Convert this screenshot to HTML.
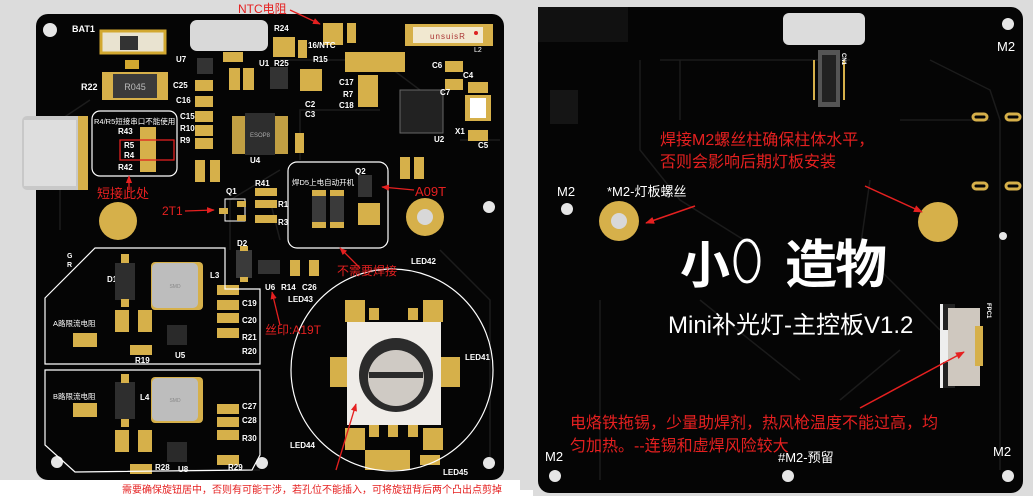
<!DOCTYPE html>
<html><head><meta charset="utf-8"><style>
html,body{margin:0;padding:0;width:1033px;height:496px;overflow:hidden;background:#dcdcdc}
svg{display:block}
text{font-family:"Liberation Sans","Noto Sans CJK SC",sans-serif}
</style></head><body>
<svg width="1033" height="496" viewBox="0 0 1033 496" xmlns="http://www.w3.org/2000/svg">
<defs><marker id="ah" viewBox="0 0 10 10" refX="9" refY="5" markerWidth="6" markerHeight="6" orient="auto"><path d="M0 1 L10 5 L0 9 Z" fill="#e52020"/></marker></defs>
<rect x="0" y="0" width="1033" height="496" fill="#dcdcdc"/>
<rect x="0" y="480" width="520" height="16" fill="#ffffff"/>
<rect x="520" y="490" width="13" height="6" fill="#fff"/>

<!-- LEFT BOARD -->
<rect x="36" y="14" width="468" height="466" rx="12" fill="#050505"/>
<g stroke="#1c1c1c" stroke-width="1.5" fill="none">
<path d="M60 230 L60 120 L90 100 M280 60 L380 60 L420 90 M300 160 L300 110 L380 110 M460 140 L500 140 M440 250 L490 300 L490 460 M270 200 L280 240 M180 470 L260 470 M230 250 L230 200 L280 170"/>
</g>
<circle cx="50" cy="30" r="7" fill="#e6e6e6"/>
<circle cx="57" cy="462" r="6" fill="#e6e6e6"/>
<circle cx="262" cy="463" r="6" fill="#e6e6e6"/>
<circle cx="489" cy="463" r="6" fill="#e6e6e6"/>
<circle cx="489" cy="207" r="6" fill="#e6e6e6"/>
<rect x="190" y="20" width="78" height="31" rx="7" fill="#d9d9d9"/>
<text x="72" y="32" fill="#fff" font-size="9" font-weight="bold">BAT1</text>
<rect x="101" y="31" width="64" height="22" fill="#e9e3d0" stroke="#d2a830" stroke-width="3"/>
<rect x="120" y="36" width="18" height="14" fill="#333"/>
<rect x="125" y="60" width="14" height="9" fill="#d2a830"/>
<text x="81" y="90" fill="#fff" font-size="9" font-weight="bold">R22</text>
<rect x="102" y="72" width="66" height="28" fill="#d6b04a"/>
<rect x="113" y="74" width="44" height="24" fill="#3b3b3b"/>
<text x="135" y="90" fill="#bbb" font-size="9" text-anchor="middle">R045</text>
<rect x="405" y="24" width="88" height="22" fill="#d6b04a"/>
<rect x="413" y="27" width="70" height="16" fill="#f1e8d0"/>
<text x="448" y="39" fill="#a33" font-size="8" text-anchor="middle" letter-spacing="1">unsuisR</text>
<circle cx="476" cy="33" r="2" fill="#d22"/>
<text x="474" y="52" fill="#fff" font-size="7">L2</text>
<g fill="#d6b04a">
<rect x="323" y="23" width="20" height="22"/><rect x="347" y="23" width="9" height="20"/>
<rect x="273" y="37" width="22" height="20"/><rect x="298" y="40" width="9" height="18"/>
<rect x="223" y="52" width="20" height="10"/>
<rect x="345" y="52" width="60" height="20"/>
<rect x="358" y="75" width="20" height="32"/>
<rect x="445" y="61" width="18" height="11"/><rect x="445" y="79" width="18" height="11"/>
<rect x="468" y="82" width="20" height="11"/><rect x="468" y="130" width="20" height="11"/>
<rect x="229" y="68" width="11" height="22"/><rect x="243" y="68" width="11" height="22"/>
<rect x="300" y="69" width="22" height="22"/>
<rect x="195" y="80" width="18" height="11"/><rect x="195" y="96" width="18" height="11"/>
<rect x="195" y="111" width="18" height="11"/><rect x="195" y="125" width="18" height="11"/><rect x="195" y="138" width="18" height="11"/>
<rect x="140" y="127" width="16" height="45"/>
<rect x="295" y="133" width="9" height="20"/>
<rect x="195" y="160" width="10" height="22"/><rect x="210" y="160" width="10" height="22"/>
<rect x="400" y="157" width="10" height="22"/><rect x="414" y="157" width="10" height="22"/>
<rect x="255" y="188" width="22" height="8"/><rect x="255" y="200" width="22" height="8"/><rect x="255" y="215" width="22" height="8"/>
<rect x="358" y="203" width="22" height="22"/>
<rect x="290" y="260" width="10" height="16"/><rect x="309" y="260" width="10" height="16"/>
<rect x="217" y="285" width="22" height="10"/><rect x="217" y="300" width="22" height="10"/><rect x="217" y="313" width="22" height="10"/><rect x="217" y="328" width="22" height="10"/>
<rect x="217" y="404" width="22" height="10"/><rect x="217" y="417" width="22" height="10"/><rect x="217" y="430" width="22" height="10"/><rect x="217" y="455" width="22" height="10"/>
<rect x="115" y="310" width="14" height="22"/><rect x="138" y="310" width="14" height="22"/><rect x="130" y="345" width="22" height="10"/>
<rect x="115" y="430" width="14" height="22"/><rect x="138" y="430" width="14" height="22"/><rect x="130" y="464" width="22" height="10"/>
<rect x="73" y="333" width="24" height="14"/><rect x="73" y="403" width="24" height="14"/>
<rect x="365" y="450" width="45" height="20"/>
<rect x="420" y="455" width="20" height="10"/>
</g>
<rect x="22" y="116" width="66" height="74" rx="5" fill="#c8c8c8"/>
<rect x="78" y="116" width="10" height="74" fill="#d6b04a"/>
<rect x="24" y="120" width="52" height="66" fill="#dedede"/>
<rect x="92" y="111" width="85" height="65" rx="8" fill="none" stroke="#fff" stroke-width="1.2"/>
<text x="94" y="124" fill="#fff" font-size="7.5">R4/R5短接串口不能使用</text>
<text x="118" y="134" fill="#fff" font-size="8" font-weight="bold">R43</text>
<text x="124" y="148" fill="#fff" font-size="8" font-weight="bold">R5</text>
<text x="124" y="158" fill="#fff" font-size="8" font-weight="bold">R4</text>
<text x="118" y="170" fill="#fff" font-size="8" font-weight="bold">R42</text>
<rect x="120" y="140" width="54" height="20" fill="none" stroke="#e02020" stroke-width="1.3"/>
<rect x="232" y="116" width="56" height="38" fill="#d6b04a" opacity=".9"/>
<rect x="245" y="113" width="30" height="42" fill="#2e2e2e"/>
<text x="260" y="137" fill="#aaa" font-size="6" text-anchor="middle">ESOP8</text>
<text x="250" y="163" fill="#fff" font-size="8" font-weight="bold">U4</text>
<rect x="400" y="90" width="43" height="43" fill="#222" stroke="#666"/>
<text x="434" y="142" fill="#fff" font-size="8" font-weight="bold">U2</text>
<rect x="465" y="95" width="26" height="26" fill="#d6b04a"/><rect x="470" y="98" width="16" height="20" fill="#fff"/>
<text x="455" y="134" fill="#fff" font-size="8" font-weight="bold">X1</text>
<rect x="197" y="58" width="16" height="16" fill="#333"/>
<rect x="270" y="67" width="18" height="22" fill="#333"/>
<g fill="#fff" font-size="8" font-weight="bold">
<text x="176" y="62">U7</text><text x="259" y="66">U1</text><text x="274" y="66">R25</text><text x="274" y="31">R24</text>
<text x="313" y="62">R15</text><text x="305" y="107">C2</text><text x="305" y="117">C3</text>
<text x="173" y="88">C25</text><text x="176" y="103">C16</text><text x="180" y="119">C15</text><text x="180" y="131">R10</text><text x="180" y="143">R9</text>
<text x="339" y="85">C17</text><text x="343" y="97">R7</text><text x="339" y="108">C18</text>
<text x="432" y="68">C6</text><text x="463" y="78">C4</text><text x="440" y="95">C7</text><text x="478" y="148">C5</text>
<text x="226" y="194">Q1</text><text x="255" y="186">R41</text><text x="278" y="207">R1</text><text x="278" y="225">R3</text>
<text x="237" y="246">D2</text><text x="265" y="290">U6</text><text x="281" y="290">R14</text><text x="302" y="290">C26</text>
<text x="288" y="302">LED43</text><text x="411" y="264">LED42</text><text x="465" y="360">LED41</text>
<text x="290" y="448">LED44</text><text x="443" y="475">LED45</text><text x="355" y="174">Q2</text>
<text x="107" y="282">D1</text><text x="210" y="278">L3</text><text x="140" y="400">L4</text>
<text x="242" y="306">C19</text><text x="242" y="323">C20</text><text x="242" y="340">R21</text><text x="242" y="354">R20</text>
<text x="242" y="409">C27</text><text x="242" y="423">C28</text><text x="242" y="441">R30</text><text x="228" y="470">R29</text>
<text x="175" y="358">U5</text><text x="178" y="472">U8</text><text x="155" y="470">R28</text><text x="135" y="363">R19</text>
<text x="67" y="258" font-size="7">G</text><text x="67" y="267" font-size="7">R</text>
<text x="308" y="48">16/NTC</text>
</g>
<circle cx="118" cy="221" r="19" fill="#d6b04a"/>
<circle cx="425" cy="217" r="19" fill="#d6b04a"/><circle cx="425" cy="217" r="8" fill="#d8d8d8"/>
<rect x="288" y="162" width="100" height="86" rx="9" fill="none" stroke="#fff" stroke-width="1.2"/>
<text x="292" y="185" fill="#fff" font-size="7.5">焊D5上电自动开机</text>
<rect x="312" y="195" width="14" height="28" fill="#3a3a3a"/><rect x="312" y="190" width="14" height="6" fill="#d6b04a"/><rect x="312" y="222" width="14" height="6" fill="#d6b04a"/>
<rect x="330" y="195" width="14" height="28" fill="#3a3a3a"/><rect x="330" y="190" width="14" height="6" fill="#d6b04a"/><rect x="330" y="222" width="14" height="6" fill="#d6b04a"/>
<rect x="358" y="175" width="14" height="22" fill="#333"/>
<rect x="225" y="199" width="20" height="22" fill="none" stroke="#fff"/>
<rect x="237" y="201" width="9" height="6" fill="#d6b04a"/><rect x="219" y="208" width="9" height="6" fill="#d6b04a"/><rect x="237" y="215" width="9" height="6" fill="#d6b04a"/>
<rect x="236" y="250" width="16" height="28" fill="#3a3a3a"/><rect x="240" y="246" width="8" height="5" fill="#d6b04a"/><rect x="240" y="277" width="8" height="5" fill="#d6b04a"/>
<rect x="258" y="260" width="22" height="14" fill="#333"/>
<path d="M45 298 L95 248 L225 248 L225 289 L260 289 L260 364 L45 364 Z" fill="none" stroke="#fff" stroke-width="1.2"/>
<path d="M45 370 L260 370 L260 455 L252 470 L75 472 L45 445 Z" fill="none" stroke="#fff" stroke-width="1.2"/>
<text x="53" y="326" fill="#fff" font-size="7.5">A路限流电阻</text>
<text x="53" y="399" fill="#fff" font-size="7.5">B路限流电阻</text>
<rect x="115" y="263" width="20" height="37" fill="#2e2e2e"/><rect x="121" y="254" width="8" height="9" fill="#d6b04a"/><rect x="121" y="299" width="8" height="8" fill="#d6b04a"/>
<rect x="115" y="382" width="20" height="37" fill="#2e2e2e"/><rect x="121" y="374" width="8" height="9" fill="#d6b04a"/><rect x="121" y="419" width="8" height="8" fill="#d6b04a"/>
<rect x="151" y="262" width="52" height="48" rx="4" fill="#d6b04a"/><rect x="152" y="263" width="46" height="45" rx="5" fill="#bdbdbd"/>
<text x="175" y="288" fill="#888" font-size="5" text-anchor="middle">SMD</text>
<rect x="151" y="377" width="52" height="46" rx="4" fill="#d6b04a"/><rect x="152" y="378" width="46" height="43" rx="5" fill="#bdbdbd"/>
<text x="175" y="402" fill="#888" font-size="5" text-anchor="middle">SMD</text>
<rect x="167" y="325" width="20" height="20" fill="#2a2a2a"/><rect x="167" y="442" width="20" height="20" fill="#2a2a2a"/>
<circle cx="392" cy="370" r="101" fill="none" stroke="#fff" stroke-width="1.2"/>
<rect x="345" y="300" width="20" height="22" fill="#d6b04a"/><rect x="423" y="300" width="20" height="22" fill="#d6b04a"/>
<rect x="345" y="428" width="20" height="22" fill="#d6b04a"/><rect x="423" y="428" width="20" height="22" fill="#d6b04a"/>
<rect x="330" y="357" width="20" height="30" fill="#d6b04a"/><rect x="440" y="357" width="20" height="30" fill="#d6b04a"/>
<rect x="369" y="308" width="10" height="12" fill="#d6b04a"/><rect x="408" y="308" width="10" height="12" fill="#d6b04a"/>
<rect x="369" y="425" width="10" height="12" fill="#d6b04a"/><rect x="388" y="425" width="10" height="12" fill="#d6b04a"/><rect x="408" y="425" width="10" height="12" fill="#d6b04a"/>
<rect x="347" y="322" width="94" height="103" fill="#efece8"/>
<circle cx="396" cy="375" r="37" fill="#2b2b2b"/>
<circle cx="396" cy="378" r="28" fill="#cfcac4"/>
<rect x="369" y="372" width="54" height="6" fill="#2b2b2b"/>
<g fill="#e52020" font-size="12">
<text x="238" y="13">NTC电阻</text>
<text x="97" y="198" font-size="13">短接此处</text>
<text x="162" y="215">2T1</text>
<text x="415" y="196" font-size="13">A09T</text>
<text x="337" y="275">不需要焊接</text>
<text x="265" y="334">丝印:A19T</text>
<text x="122" y="493" font-size="10">需要确保旋钮居中，否则有可能干涉，若孔位不能插入，可将旋钮背后两个凸出点剪掉</text>
</g>
<g stroke="#e52020" stroke-width="1.3" marker-end="url(#ah)">
<line x1="290" y1="10" x2="320" y2="24"/><line x1="129" y1="190" x2="129" y2="176"/>
<line x1="185" y1="211" x2="214" y2="210"/><line x1="414" y1="190" x2="382" y2="187"/>
<line x1="360" y1="268" x2="340" y2="248"/><line x1="280" y1="325" x2="272" y2="292"/>
<line x1="336" y1="470" x2="356" y2="404"/>
</g>

<!-- RIGHT BOARD -->
<rect x="538" y="7" width="485" height="486" rx="12" fill="#050505"/>
<g stroke="#1b1b1b" stroke-width="1.5" fill="none">
<path d="M640 60 L640 150 L680 200 L760 250 M660 60 L850 60 M930 60 L990 90 L1000 120 L1000 470 M870 180 L860 250 L940 330 M600 300 L600 480 M680 120 L680 60 L780 60 M900 120 L990 120 M700 300 L800 380 M840 400 L900 350"/>
</g>
<rect x="538" y="7" width="90" height="35" fill="#111"/>
<rect x="550" y="90" width="28" height="34" fill="#151515"/>
<rect x="783" y="13" width="82" height="32" rx="6" fill="#dcdcdc"/>
<rect x="818" y="50" width="22" height="57" fill="#555"/><rect x="822" y="55" width="14" height="47" fill="#222"/>
<g stroke="#d6b04a" stroke-width="2"><line x1="814" y1="60" x2="814" y2="100"/><line x1="844" y1="60" x2="844" y2="100"/></g>
<text x="842" y="53" fill="#fff" font-size="6" font-weight="bold" transform="rotate(90 842 53)">CN1</text>
<circle cx="1008" cy="24" r="6" fill="#e6e6e6"/>
<circle cx="567" cy="209" r="6" fill="#e6e6e6"/>
<circle cx="555" cy="476" r="6" fill="#e6e6e6"/>
<circle cx="788" cy="476" r="6" fill="#e6e6e6"/>
<circle cx="1008" cy="476" r="6" fill="#e6e6e6"/>
<circle cx="1003" cy="236" r="4" fill="#e6e6e6"/>
<g fill="none" stroke="#d6b04a" stroke-width="3"><rect x="973" y="114" width="14" height="6" rx="3"/><rect x="1006" y="114" width="14" height="6" rx="3"/><rect x="973" y="183" width="14" height="6" rx="3"/><rect x="1006" y="183" width="14" height="6" rx="3"/></g>
<circle cx="619" cy="221" r="20" fill="#d6b04a"/><circle cx="619" cy="221" r="8" fill="#d8d8d8"/>
<circle cx="938" cy="222" r="20" fill="#d6b04a"/>
<rect x="940" y="304" width="10" height="84" fill="#eee"/>
<rect x="943" y="304" width="12" height="26" fill="#222"/><rect x="943" y="362" width="12" height="26" fill="#222"/>
<rect x="948" y="308" width="32" height="78" fill="#cfc8bf"/>
<rect x="975" y="326" width="8" height="40" fill="#d6b04a"/>
<text x="987" y="303" fill="#fff" font-size="6" font-weight="bold" transform="rotate(90 987 303)">FPC1</text>
<g fill="#fff">
<text x="997" y="51" font-size="13">M2</text>
<text x="557" y="196" font-size="13">M2</text>
<text x="607" y="196" font-size="13">*M2-灯板螺丝</text>
<text x="545" y="461" font-size="13">M2</text>
<text x="993" y="456" font-size="13">M2</text>
<text x="778" y="462" font-size="13">#M2-预留</text>
<text x="680" y="283" font-size="50" font-weight="bold">小</text>
<text x="785" y="283" font-size="52" font-weight="bold" letter-spacing="-2">造物</text>
<text x="668" y="333" font-size="24">Mini补光灯-主控板V1.2</text>
</g>
<ellipse cx="747" cy="261" rx="12" ry="21" fill="none" stroke="#fff" stroke-width="3"/>
<g fill="#e52020" font-size="16">
<text x="660" y="145">焊接M2螺丝柱确保柱体水平，</text>
<text x="660" y="167">否则会影响后期灯板安装</text>
<text x="570" y="428">电烙铁拖锡，少量助焊剂，热风枪温度不能过高，均</text>
<text x="570" y="451">匀加热。--连锡和虚焊风险较大</text>
</g>
<g stroke="#e52020" stroke-width="1.5" marker-end="url(#ah)">
<line x1="695" y1="206" x2="646" y2="223"/><line x1="865" y1="186" x2="922" y2="212"/><line x1="860" y1="408" x2="964" y2="352"/>
</g>
</svg>
</body></html>
